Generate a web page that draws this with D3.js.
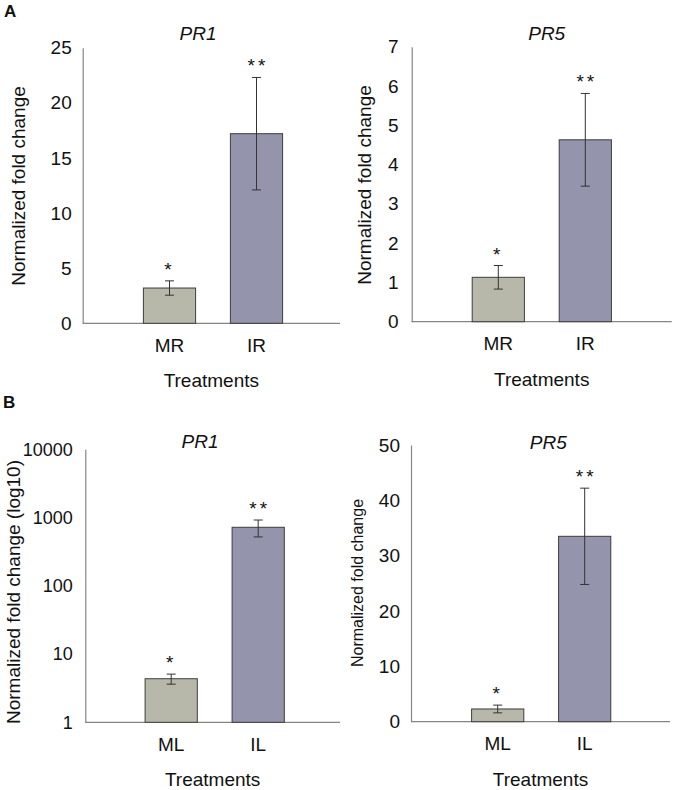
<!DOCTYPE html>
<html>
<head>
<meta charset="utf-8">
<script src="https://cdn.jsdelivr.net/npm/d3@7"></script>
<style>
  body { margin: 0; background: #fff; }
  text { font-family: "Liberation Sans", Arial, sans-serif; fill: #111; }
</style>
</head>
<body>
<svg id="chart" width="675" height="790"></svg>
<script>
const rootCategories = ["MR", "IR"];
const leafCategories = ["ML", "IL"];
const stars = ["*", "**"];

const pr1RootMean = [3.2, 17.2];
const pr1RootErr = [0.65, 5.1];
const pr5RootMean = [1.13, 4.63];
const pr5RootErr = [0.3, 1.18];
const pr1LeafMean = [4.35, 720];
const pr1LeafErr = [0.73, 200];
const pr5LeafMean = [2.3, 33.5];
const pr5LeafErr = [0.7, 8.7];

const ticksPr1Root = [0, 5, 10, 15, 20, 25];
const ticksPr5Root = [0, 1, 2, 3, 4, 5, 6, 7];
const ticksPr1Leaf = [1, 10, 100, 1000, 10000];
const ticksPr5Leaf = [0, 10, 20, 30, 40, 50];

const COLORS = ["#b8b8aa", "#9494ac"];

const svg = d3.select("#chart");

const drawPanel = (opt) => {
    const { cats, mean, err, ticks, log } = opt;
    const g = svg.append("g");

    const y = log
        ? d3.scaleLog().domain([ticks[0], ticks[ticks.length - 1]]).range([opt.bottom, opt.top])
        : d3.scaleLinear().domain([ticks[0], ticks[ticks.length - 1]]).range([opt.bottom, opt.top]);

    // two bars, 87px apart, ~52px wide
    const x = d3.scaleBand()
        .domain(cats)
        .range([opt.bandStart, opt.bandStart + 174])
        .paddingInner(0.4)
        .paddingOuter(0.2);

    const yAxis = g.append("g")
        .attr("transform", `translate(${opt.left}, 0)`)
        .call(d3.axisLeft(y)
            .tickValues(ticks)
            .tickFormat(d3.format("d"))
            .tickSize(0)
            .tickPadding(opt.tickPad));
    yAxis.select(".domain").attr("stroke", "#858585").attr("stroke-width", 1.2);
    yAxis.selectAll("text")
        .style("font-size", opt.tickSize + "px")
        .style("font-family", "'Liberation Sans', Arial, sans-serif")
        .attr("fill", "#111");

    g.append("line")
        .attr("x1", opt.left).attr("x2", opt.right)
        .attr("y1", opt.bottom).attr("y2", opt.bottom)
        .attr("stroke", "#858585").attr("stroke-width", 1.2);

    const rows = cats.map((c, i) => ({ c, v: mean[i], e: err[i], s: stars[i], i }));

    g.selectAll(".bar")
        .data(rows)
        .join("rect")
        .attr("class", "bar")
        .attr("x", d => x(d.c))
        .attr("width", x.bandwidth())
        .attr("y", d => y(d.v))
        .attr("height", d => opt.bottom - y(d.v))
        .attr("fill", d => COLORS[d.i])
        .attr("stroke", "#3d3d3d")
        .attr("stroke-width", 1);

    const eb = g.selectAll(".err")
        .data(rows)
        .join("g")
        .attr("class", "err")
        .attr("transform", d => `translate(${x(d.c) + x.bandwidth() / 2}, 0)`);
    eb.append("line")
        .attr("y1", d => y(d.v + d.e)).attr("y2", d => y(d.v - d.e))
        .attr("stroke", "#333");
    eb.append("line")
        .attr("x1", -4.5).attr("x2", 4.5)
        .attr("y1", d => y(d.v + d.e)).attr("y2", d => y(d.v + d.e))
        .attr("stroke", "#333");
    eb.append("line")
        .attr("x1", -4.5).attr("x2", 4.5)
        .attr("y1", d => y(d.v - d.e)).attr("y2", d => y(d.v - d.e))
        .attr("stroke", "#333");
    eb.append("text")
        .attr("y", d => y(d.v + d.e) - 5)
        .attr("dx", d => d.s.length > 1 ? 1.5 : 0)
        .attr("text-anchor", "middle")
        .style("font-size", "19px")
        .style("letter-spacing", "3px")
        .text(d => d.s);

    // category labels
    g.selectAll(".cat")
        .data(cats)
        .join("text")
        .attr("x", d => x(d) + x.bandwidth() / 2)
        .attr("y", opt.bottom + 28.5)
        .attr("text-anchor", "middle")
        .style("font-size", "19px")
        .text(d => d);

    g.append("text")
        .attr("x", (opt.left + opt.right) / 2)
        .attr("y", opt.bottom + 64)
        .attr("text-anchor", "middle")
        .style("font-size", "19px")
        .text("Treatments");

    g.append("text")
        .attr("x", opt.titleX)
        .attr("y", opt.titleY)
        .attr("text-anchor", "middle")
        .style("font-size", "19px")
        .style("font-style", "italic")
        .text(opt.title);

    g.append("text")
        .attr("transform", `translate(${opt.labelX}, ${opt.labelY}) rotate(-90)`)
        .attr("text-anchor", "middle")
        .attr("dy", "0.35em")
        .style("font-size", opt.labelSize + "px")
        .text(opt.label);
};

drawPanel({
    cats: rootCategories, mean: pr1RootMean, err: pr1RootErr, ticks: ticksPr1Root,
    left: 82.7, right: 340, top: 47.7, bottom: 323.3, bandStart: 126, tickPad: 11, tickSize: 19,
    title: "PR1", titleX: 198, titleY: 40,
    label: "Normalized fold change", labelX: 18, labelY: 186, labelSize: 19
});
drawPanel({
    cats: rootCategories, mean: pr5RootMean, err: pr5RootErr, ticks: ticksPr5Root,
    left: 411.7, right: 671.7, top: 46.7, bottom: 321.7, bandStart: 454.8, tickPad: 13, tickSize: 19,
    title: "PR5", titleX: 546.7, titleY: 40,
    label: "Normalized fold change", labelX: 364, labelY: 185, labelSize: 19
});
drawPanel({
    cats: leafCategories, mean: pr1LeafMean, err: pr1LeafErr, ticks: ticksPr1Leaf, log: true,
    left: 85.3, right: 340, top: 449.3, bottom: 722.3, bandStart: 127.7, tickPad: 12.5, tickSize: 18,
    title: "PR1", titleX: 200, titleY: 448.3,
    label: "Normalized fold change (log10)", labelX: 13, labelY: 592, labelSize: 19
});
drawPanel({
    cats: leafCategories, mean: pr5LeafMean, err: pr5LeafErr, ticks: ticksPr5Leaf,
    left: 411, right: 670, top: 445, bottom: 721.7, bandStart: 454.2, tickPad: 11, tickSize: 19,
    title: "PR5", titleX: 548.3, titleY: 449,
    label: "Normalized fold change", labelX: 357, labelY: 583, labelSize: 16
});

svg.append("text").attr("x", 4).attr("y", 17)
    .style("font-size", "17px").style("font-weight", "bold").text("A");
svg.append("text").attr("x", 3).attr("y", 408)
    .style("font-size", "17px").style("font-weight", "bold").text("B");
</script>
</body>
</html>
